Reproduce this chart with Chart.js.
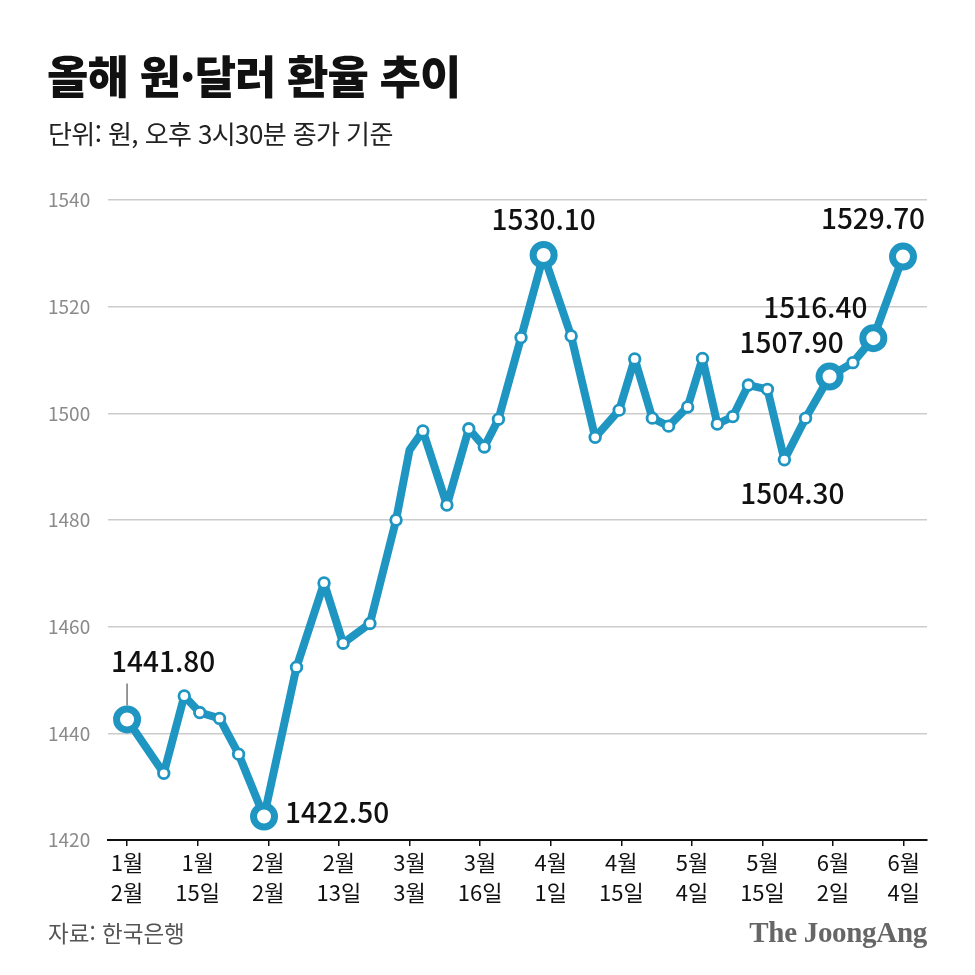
<!DOCTYPE html>
<html lang="ko">
<head>
<meta charset="utf-8">
<script src="https://cdn.jsdelivr.net/npm/chart.js@4.4.1/dist/chart.umd.min.js"></script>
<style>
html, body { margin: 0; padding: 0; background: #fff; }
#wrap { position: relative; width: 975px; height: 975px; overflow: hidden; }
#chart { position: absolute; left: 0; top: 0; }
.txt { position: absolute; font-family: 'Noto Sans CJK KR', sans-serif; white-space: nowrap; line-height: 1; }
#title { left: 47px; top: 52px; font-size: 45px; font-weight: 900; color: #111; letter-spacing: -1px; }
#sub { left: 48px; top: 120px; font-size: 26px; color: #222; letter-spacing: -0.6px; }
#source { left: 48px; top: 921px; font-size: 22.5px; color: #555; }
#logo { right: 48px; top: 918px; font-family: 'Liberation Serif', serif; font-weight: bold; font-size: 29px; color: #666; letter-spacing: -0.3px; }
</style>
</head>
<body>
<div id="wrap">
  <canvas id="chart" width="975" height="975"></canvas>
  <div class="txt" id="title">올해 원·달러 환율 추이</div>
  <div class="txt" id="sub">단위: 원, 오후 3시30분 종가 기준</div>
  <div class="txt" id="source">자료: 한국은행</div>
  <div class="txt" id="logo">The JoongAng</div>
</div>
<script>
// x axis labels (one per tick, evenly spaced)
const tickLabels = [
    ['1월', '2월'], ['1월', '15일'], ['2월', '2월'], ['2월', '13일'],
    ['3월', '3월'], ['3월', '16일'], ['4월', '1일'], ['4월', '15일'],
    ['5월', '4일'], ['5월', '15일'], ['6월', '2일'], ['6월', '4일']
];

// position of each observation in tick units (0 = first tick)
const dayPos = [
    0, 0.52, 0.81, 1.03, 1.31, 1.58, 1.94, 2.40, 2.79, 3.06,
    3.44, 3.81, 4.00, 4.19, 4.53, 4.84, 5.06, 5.26, 5.58, 5.90,
    6.29, 6.63, 6.97, 7.19, 7.44, 7.67, 7.94, 8.15, 8.36, 8.58,
    8.80, 9.07, 9.31, 9.61, 9.95, 10.28, 10.57, 10.99
];

// won per dollar
const rates = [
    1442.6, 1432.5, 1447.0, 1443.9, 1442.8, 1436.1, 1424.4, 1452.4, 1468.2, 1456.9,
    1460.6, 1480.0, 1493.1, 1496.7, 1482.8, 1497.1, 1493.7, 1498.9, 1514.2, 1529.7,
    1514.5, 1495.5, 1500.6, 1510.2, 1499.1, 1497.6, 1501.2, 1510.3, 1498.0, 1499.4,
    1505.3, 1504.5, 1491.3, 1499.1, 1506.9, 1509.5, 1514.1, 1529.4
];

// annotated values
const calloutIdx = [0, 6, 19, 37, 36, 34, 32];
const calloutText = ['1441.80', '1422.50', '1530.10', '1529.70', '1516.40', '1507.90', '1504.30'];

const bigPoints = [0, 6, 19, 34, 36, 37];
const hiddenPoints = [12];

const LINE = '#1f95c2';
const FONT = "'Noto Sans CJK KR', 'Noto Sans', sans-serif";

Chart.defaults.font.family = FONT;

// where each callout sits relative to its point
const calloutPlace = [
    { dx: -16, dy: -58, align: 'left', leader: true },
    { dx: 21, dy: -4, align: 'left' },
    { dx: 0, dy: -36, align: 'center' },
    { dx: -30, dy: -38, align: 'center' },
    { dx: -58, dy: -31, align: 'center' },
    { dx: -38, dy: -34, align: 'center' },
    { dx: 8, dy: 34, align: 'center' }
];

const calloutPlugin = {
    id: 'callouts',
    afterDatasetsDraw(chart) {
        const ctx = chart.ctx;
        const meta = chart.getDatasetMeta(0);
        ctx.save();
        ctx.font = '500 28px ' + FONT;
        ctx.fillStyle = '#111';
        ctx.textBaseline = 'middle';
        calloutIdx.forEach((idx, i) => {
            const pt = meta.data[idx];
            const p = calloutPlace[i];
            if (p.leader) {
                ctx.strokeStyle = '#777';
                ctx.lineWidth = 1.5;
                ctx.beginPath();
                ctx.moveTo(pt.x, pt.y - 36);
                ctx.lineTo(pt.x, pt.y - 14);
                ctx.stroke();
            }
            ctx.textAlign = p.align;
            ctx.fillText(calloutText[i], pt.x + p.dx, pt.y + p.dy);
        });
        ctx.restore();
    }
};

new Chart(document.getElementById('chart').getContext('2d'), {
    type: 'line',
    data: {
        datasets: [{
            data: dayPos.map((x, i) => ({ x, y: rates[i] })),
            borderColor: LINE,
            borderWidth: 8,
            borderJoinStyle: 'round',
            borderCapStyle: 'round',
            tension: 0,
            clip: false,
            pointBackgroundColor: '#fff',
            pointBorderColor: LINE,
            pointRadius: c => hiddenPoints.includes(c.dataIndex) ? 0 : (bigPoints.includes(c.dataIndex) ? 10.5 : 5.3),
            pointBorderWidth: c => bigPoints.includes(c.dataIndex) ? 7 : 2.8
        }]
    },
    options: {
        responsive: false,
        animation: false,
        devicePixelRatio: 1,
        layout: { padding: { left: 48, right: 48, top: 200, bottom: 0 } },
        plugins: {
            legend: { display: false },
            tooltip: { enabled: false }
        },
        scales: {
            x: {
                type: 'linear',
                min: -0.27,
                max: 11.33,
                afterBuildTicks: s => { s.ticks = tickLabels.map((_, i) => ({ value: i })); },
                afterFit: s => { s.height = 135; },
                grid: { drawOnChartArea: false, drawTicks: true, tickLength: 6, color: '#111', lineWidth: 1.5 },
                border: { display: true, color: '#111', width: 2 },
                ticks: {
                    autoSkip: false,
                    maxRotation: 0,
                    padding: 2,
                    color: '#111',
                    font: { size: 22, lineHeight: 1.36 },
                    callback: v => tickLabels[v]
                }
            },
            y: {
                min: 1420,
                max: 1540,
                afterFit: s => { s.width = 60; },
                ticks: {
                    stepSize: 20,
                    color: '#8a8a8a',
                    crossAlign: 'far',
                    padding: 0,
                    font: { size: 19 },
                    callback: v => String(v)
                },
                grid: { color: '#cccccc', lineWidth: 1.5, drawTicks: false },
                border: { display: false }
            }
        }
    },
    plugins: [calloutPlugin]
});
</script>
</body>
</html>
